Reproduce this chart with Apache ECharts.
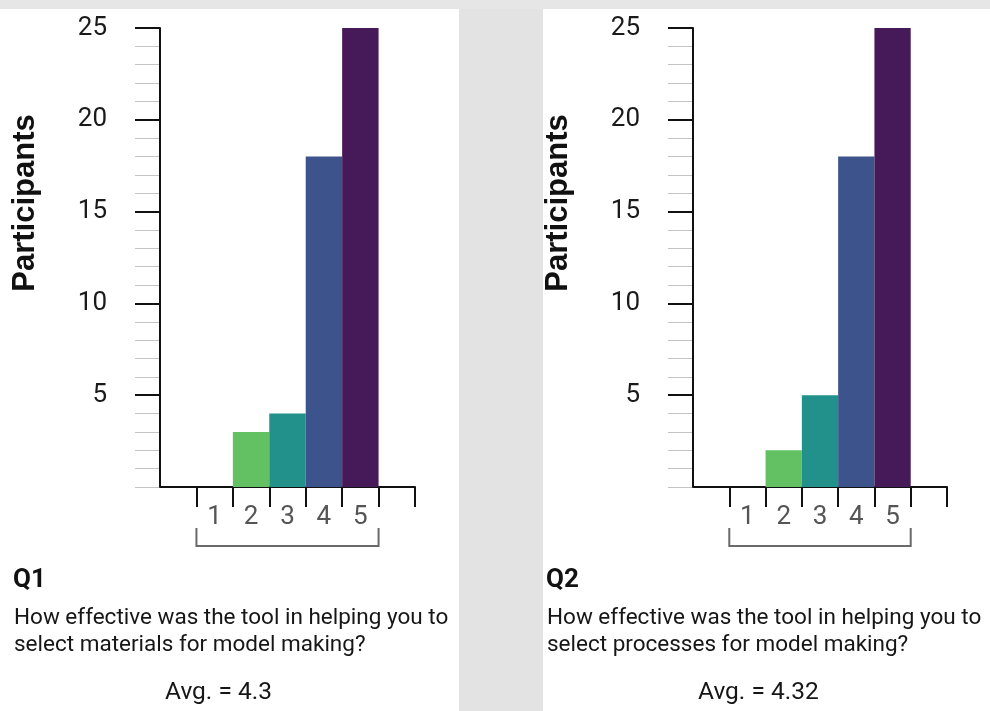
<!DOCTYPE html>
<html>
<head>
<meta charset="utf-8">
<script src="https://cdn.jsdelivr.net/npm/echarts@6/dist/echarts.min.js"></script>
<style>
  html, body { margin: 0; padding: 0; background: #fff; }
  #chart { width: 990px; height: 711px; }
</style>
</head>
<body>
<div id="chart"></div>
<script>
// Rating scale: empty bands pad the axis on both sides of 1..5
const categories = ['', '1', '2', '3', '4', '5', ''];
// Number of participants per rating
const q1Counts = [null, 0, 3, 4, 18, 25, null];
const q2Counts = [null, 0, 2, 5, 18, 25, null];
// One colour per rating
const ratingColors = [null, '#fde725', '#63c164', '#22908b', '#3c538b', '#461a58', null];
// Labelled ticks of the count axis, and the unlabelled minor ticks
const yTickLabels = [5, 10, 15, 20, 25];
const yMinorTicks = [0, 1, 2, 3, 4, 6, 7, 8, 9, 11, 12, 13, 14, 16, 17, 18, 19, 21, 22, 23, 24];

const questions = [
  { id: 'Q1', text: 'How effective was the tool in helping you to\nselect materials for model making?', avg: 'Avg. = 4.3' },
  { id: 'Q2', text: 'How effective was the tool in helping you to\nselect processes for model making?', avg: 'Avg. = 4.32' }
];

const panelOffset = 533;
const grids = [
  { left: 160, top: 28, width: 255, height: 459 },
  { left: 160 + panelOffset, top: 28, width: 254, height: 459 }
];

function buildData(counts) {
  return counts.map((v, i) => ({ value: v, itemStyle: { color: ratingColors[i] || '#000' } }));
}

const xAxes = grids.map((g, gi) => ({
  type: 'category',
  gridIndex: gi,
  data: categories,
  axisLine: { show: true, lineStyle: { color: '#111', width: 2 } },
  axisTick: { show: true, length: 20, interval: (idx) => idx > 0, lineStyle: { color: '#111', width: 2 } },
  axisLabel: { interval: 0, margin: 17, color: '#555', fontSize: 26, fontFamily: 'Roboto', lineHeight: 26 },
  splitLine: { show: false }
}));

const yAxes = [];
grids.forEach((g, gi) => {
  yAxes.push({
    type: 'value', gridIndex: gi, position: 'left', min: 0, max: 25, interval: 5, z: 3,
    axisLine: { show: true, lineStyle: { color: '#111', width: 2 } },
    axisTick: { show: true, length: 25, customValues: yTickLabels, lineStyle: { color: '#111', width: 2 } },
    axisLabel: { customValues: yTickLabels, margin: 53, color: '#1a1a1a', fontSize: 26, fontFamily: 'Roboto' },
    splitLine: { show: false }
  });
  yAxes.push({
    type: 'value', gridIndex: gi, position: 'left', offset: 0, min: 0, max: 25, interval: 1, z: 2,
    axisLine: { show: false },
    axisTick: { show: true, length: 25, customValues: yMinorTicks, lineStyle: { color: '#c4c4c4', width: 1 } },
    axisLabel: { show: false },
    splitLine: { show: false }
  });
});

const series = [q1Counts, q2Counts].map((counts, gi) => ({
  type: 'bar',
  xAxisIndex: gi,
  yAxisIndex: gi * 2,
  barCategoryGap: 0,
  barGap: 0,
  data: buildData(counts),
  z: 4
}));

// Light grey backdrop shapes behind the two panels
const backdrop = [
  { type: 'rect', z: -10, shape: { x: 459, y: 0, width: 84, height: 711 }, style: { fill: '#e3e3e3' } },
  { type: 'rect', z: -10, shape: { x: 0, y: 0, width: 990, height: 9 }, style: { fill: '#e6e6e6' } }
];

const texts = [];
questions.forEach((q, i) => {
  const dx = i * panelOffset;
  texts.push({
    type: 'text', x: 25 + dx, y: 203, rotation: Math.PI / 2,
    style: { text: 'Participants', font: 'bold 31px "Liberation Sans", Arial, sans-serif', fill: '#111', align: 'center', verticalAlign: 'middle' }
  });
  texts.push({
    type: 'text', x: 13 + dx, y: 580,
    style: { text: q.id, font: 'bold 26px Roboto', fill: '#111', align: 'left', verticalAlign: 'middle' }
  });
  texts.push({
    type: 'text', x: 14 + dx, y: 605,
    style: { text: q.text, font: '22.5px Roboto', lineHeight: 27, fill: '#161616', align: 'left', verticalAlign: 'top' }
  });
  texts.push({
    type: 'text', x: 165 + dx, y: 693,
    style: { text: q.avg, font: '24.5px Roboto', fill: '#161616', align: 'left', verticalAlign: 'middle' }
  });
});

const chart = echarts.init(document.getElementById('chart'), null, { renderer: 'canvas' });
chart.setOption({
  animation: false,
  backgroundColor: '#ffffff',
  grid: grids.map(g => Object.assign({ containLabel: false }, g)),
  xAxis: xAxes,
  yAxis: yAxes,
  series: series,
  graphic: backdrop.concat(texts)
});

// Bracket under the rating labels, spanning the bands of ratings 1..5
const brackets = [0, 1].map(gi => {
  const first = chart.convertToPixel({ gridIndex: gi }, ['1', 0]);
  const last = chart.convertToPixel({ gridIndex: gi }, ['5', 0]);
  const band = (last[0] - first[0]) / 4;
  const x0 = first[0] - band / 2;
  const x1 = last[0] + band / 2;
  const yTop = first[1] + 41;
  const yBot = first[1] + 59;
  return {
    type: 'polyline',
    shape: { points: [[x0, yTop], [x0, yBot], [x1, yBot], [x1, yTop]] },
    style: { stroke: '#6a6a6a', lineWidth: 2, fill: null }
  };
});
chart.setOption({ graphic: backdrop.concat(texts).concat(brackets) });
</script>
</body>
</html>
